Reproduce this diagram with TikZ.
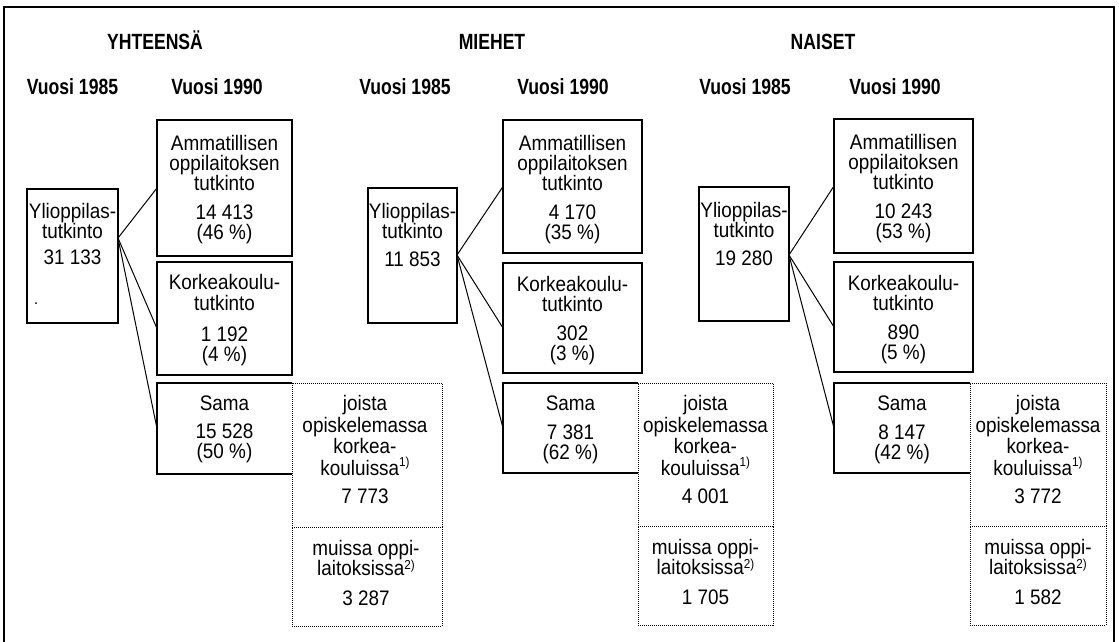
\documentclass[tikz,border=0pt]{standalone}
\usepackage{fontspec}
\usetikzlibrary{calc}
\newfontfamily\bodyfont{Liberation Sans}[FakeStretch=0.9]
\newfontfamily\headfont{Liberation Sans}[FakeStretch=0.8]
\newcommand\supr[2]{\raisebox{#1}{\fontsize{13}{13}\selectfont #2}}
\newcommand\boxtext[4]{%
  \foreach \dy/\tx [count=\i] in {#4} {\node[txt] (#1-\i) at (#2,#3+\dy) {\tx};}%
}
\begin{document}
\begin{tikzpicture}[x=1pt,y=-1pt,
  txt/.style={font=\bodyfont\fontsize{21}{21}\selectfont, anchor=base, inner sep=0pt},
  head/.style={font=\headfont\bfseries\fontsize{22}{22}\selectfont, anchor=base, inner sep=0pt},
  boxst/.style={draw, line width=1.3pt, inner sep=0pt, outer sep=0pt, anchor=north west},
  blank/.style={inner sep=0pt, outer sep=0pt, anchor=north west},
  boxline/.style={line width=1.3pt},
  dotbox/.style={draw, line width=0.9pt, dash pattern=on 1pt off 1pt, inner sep=0pt, outer sep=0pt, anchor=north west},
  conn/.style={line width=1pt},
  frame/.style={line width=1.8pt}]
\useasboundingbox (0,0) rectangle (1119,642);
\draw[frame] (4,642) -- (4,7) -- (1114,7) -- (1114,642);

% headings
\node[head] (h1) at (155,50) {YHTEENSÄ};
\node[head] (h2) at (492,50) {MIEHET};
\node[head] (h3) at (823,50) {NAISET};
\node[head] (v1a) at (72.5,95) {Vuosi 1985};
\node[head] (v1b) at (217,95) {Vuosi 1990};
\node[head] (v2a) at (405,95) {Vuosi 1985};
\node[head] (v2b) at (563,95) {Vuosi 1990};
\node[head] (v3a) at (745,95) {Vuosi 1985};
\node[head] (v3b) at (895,95) {Vuosi 1990};

% ---------- panel 1 ----------
\node[boxst, minimum width=91pt, minimum height=134pt] (Y1) at (27,189) {};
\node[boxst, minimum width=135pt, minimum height=136pt] (A1) at (157,120) {};
\node[boxst, minimum width=135pt, minimum height=113pt] (K1) at (157,262) {};
\node[blank, minimum width=135pt, minimum height=91pt] (S1) at (157,383) {};
\node[dotbox, minimum width=150pt, minimum height=144pt] (J1) at (292,383) {};
\node[dotbox, minimum width=150pt, minimum height=99pt] (M1) at (292,527) {};
\draw[boxline] (S1.north east) -- (S1.north west) -- (S1.south west) -- (S1.south east);
\fill (36,303) circle (1pt);
\boxtext{y1}{72.5}{189}{29/Ylioppilas-,49/tutkinto,75/31 133}
\boxtext{a1}{224.5}{120}{30/Ammatillisen,50/oppilaitoksen,70/tutkinto,99/14 413,119/{(46 \%)}}
\boxtext{k1}{224.5}{262}{27/Korkeakoulu-,48/tutkinto,79/1 192,99/{(4 \%)}}
\boxtext{s1}{224.5}{383}{27/Sama,55/15 528,75/{(50 \%)}}
\boxtext{j1}{365}{383}{27/joista,49/opiskelemassa,70/korkea-,92/{kouluissa\supr{9pt}{1)}},120/7 773}
\boxtext{m1}{366}{527}{28/muissa oppi-,48/{laitoksissa\supr{6pt}{2)}},78/3 287}
\coordinate (c1) at (118,238);
\draw[conn] (c1) -- (A1.west);
\draw[conn] (c1) -- ($(K1.west)+(0,10)$);
\draw[conn] (c1) -- (S1.west);

% ---------- panel 2 ----------
\node[boxst, minimum width=89pt, minimum height=135pt] (Y2) at (368,188) {};
\node[boxst, minimum width=139pt, minimum height=133pt] (A2) at (503,120) {};
\node[boxst, minimum width=139pt, minimum height=110pt] (K2) at (503,263) {};
\node[blank, minimum width=135pt, minimum height=90pt] (S2) at (503,383) {};
\node[dotbox, minimum width=135pt, minimum height=143pt] (J2) at (638,383) {};
\node[dotbox, minimum width=135pt, minimum height=99pt] (M2) at (638,526) {};
\draw[boxline] (S2.north east) -- (S2.north west) -- (S2.south west) -- (S2.south east);
\boxtext{y2}{412.5}{188}{30/Ylioppilas-,50/tutkinto,78/11 853}
\boxtext{a2}{572.5}{120}{30/Ammatillisen,50/oppilaitoksen,70/tutkinto,99/4 170,119/{(35 \%)}}
\boxtext{k2}{572.5}{263}{28/Korkeakoulu-,48/tutkinto,77/302,97/{(3 \%)}}
\boxtext{s2}{570.5}{383}{27/Sama,56/7 381,76/{(62 \%)}}
\boxtext{j2}{705.5}{383}{27/joista,49/opiskelemassa,70/korkea-,92/{kouluissa\supr{9pt}{1)}},120/4 001}
\boxtext{m2}{705.5}{526}{28/muissa oppi-,48/{laitoksissa\supr{6pt}{2)}},78/1 705}
\coordinate (c2) at (457,255);
\draw[conn] (c2) -- (A2.west);
\draw[conn] (c2) -- ($(K2.west)+(0,10)$);
\draw[conn] (c2) -- (S2.west);

% ---------- panel 3 ----------
\node[boxst, minimum width=90pt, minimum height=134pt] (Y3) at (699,187) {};
\node[boxst, minimum width=139pt, minimum height=134pt] (A3) at (834,119) {};
\node[boxst, minimum width=139pt, minimum height=110pt] (K3) at (834,262) {};
\node[blank, minimum width=136pt, minimum height=90pt] (S3) at (834,383) {};
\node[dotbox, minimum width=136pt, minimum height=143pt] (J3) at (970,383) {};
\node[dotbox, minimum width=136pt, minimum height=99pt] (M3) at (970,526) {};
\draw[boxline] (S3.north east) -- (S3.north west) -- (S3.south west) -- (S3.south east);
\boxtext{y3}{744}{187}{30/Ylioppilas-,50/tutkinto,78/19 280}
\boxtext{a3}{903.5}{119}{30/Ammatillisen,50/oppilaitoksen,70/tutkinto,99/10 243,119/{(53 \%)}}
\boxtext{k3}{903.5}{262}{28/Korkeakoulu-,48/tutkinto,77/890,97/{(5 \%)}}
\boxtext{s3}{902}{383}{27/Sama,56/8 147,76/{(42 \%)}}
\boxtext{j3}{1038}{383}{27/joista,49/opiskelemassa,70/korkea-,92/{kouluissa\supr{9pt}{1)}},120/3 772}
\boxtext{m3}{1038}{526}{28/muissa oppi-,48/{laitoksissa\supr{6pt}{2)}},78/1 582}
\coordinate (c3) at (789,255);
\draw[conn] (c3) -- (A3.west);
\draw[conn] (c3) -- ($(K3.west)+(0,10)$);
\draw[conn] (c3) -- (S3.west);
\end{tikzpicture}
\end{document}
